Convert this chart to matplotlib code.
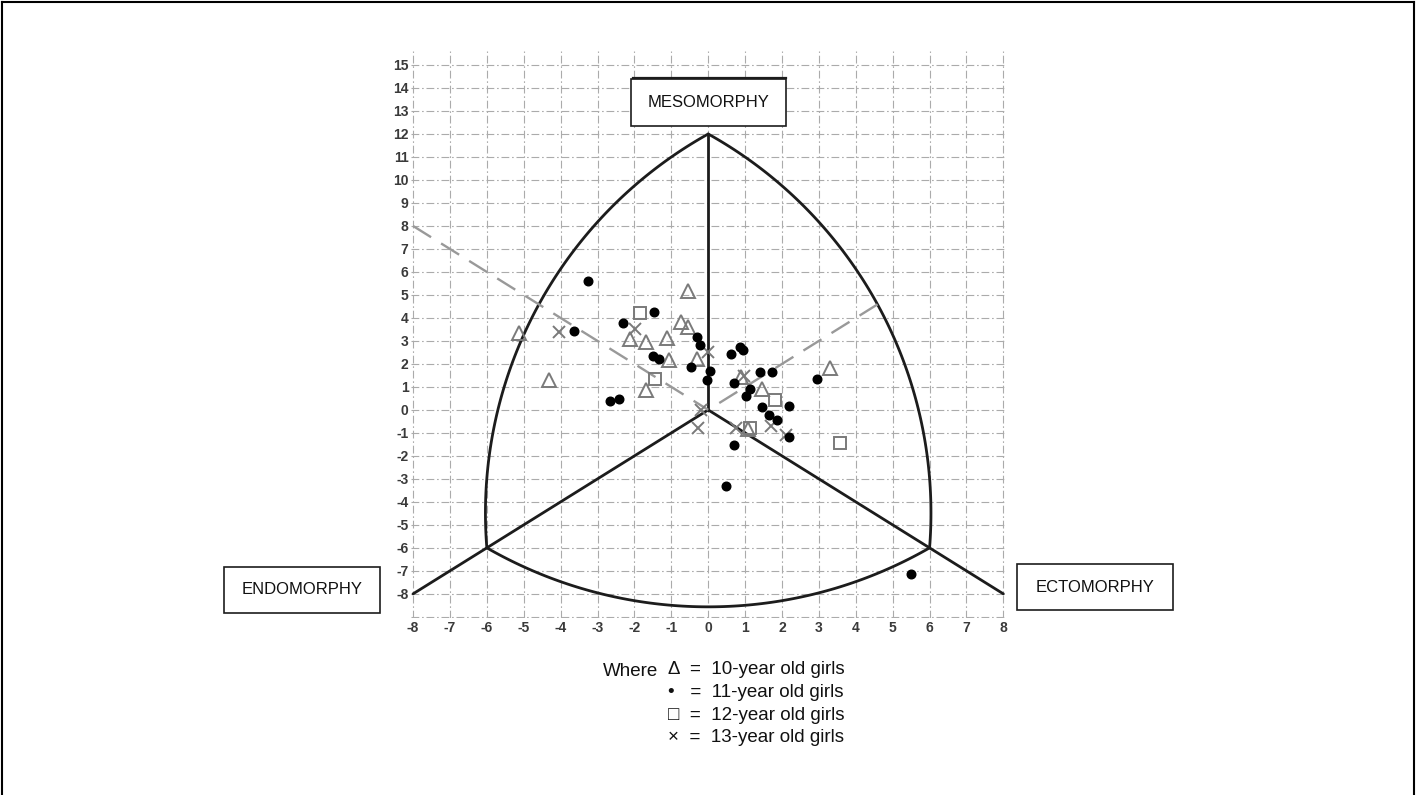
import numpy as np
import matplotlib.pyplot as plt
from matplotlib.patches import Rectangle
from matplotlib.lines import Line2D

plt.rcParams['font.family'] = ['Liberation Sans', 'DejaVu Sans']

# somatochart points
# 10-year old girls (triangles)
tri_x = [-0.56, -5.12, -0.74, -0.56, -2.13, -1.68, -1.12, -1.05, -0.30, -4.31, -1.68, 3.31, 1.46, 0.88, 1.08]
tri_y = [5.19, 3.33, 3.84, 3.62, 3.07, 2.94, 3.12, 2.17, 2.20, 1.30, 0.87, 1.81, 0.90, 1.45, -0.84]

# 11-year old girls (filled circles)
dot_x = [-3.25, -3.64, -2.31, -1.46, -1.50, -1.32, -0.31, -0.22, -0.47, 0.06, -0.02, -2.65, -2.43,
         0.61, 0.85, 0.93, 0.70, 1.40, 1.74, 2.94, 1.12, 1.03, 1.46, 1.64, 1.87, 2.20, 2.20, 0.70,
         0.48, 5.50]
dot_y = [5.62, 3.43, 3.77, 4.25, 2.35, 2.20, 3.19, 2.83, 1.86, 1.71, 1.30, 0.39, 0.48,
         2.43, 2.75, 2.61, 1.16, 1.64, 1.64, 1.33, 0.90, 0.61, 0.14, -0.22, -0.43, 0.19, -1.16, -1.52,
         -3.29, -7.14]

# 12-year old girls (squares)
sq_x = [-1.84, -1.44, 1.80, 1.12, 3.57]
sq_y = [4.23, 1.35, 0.41, -0.80, -1.42]

# 13-year old girls (crosses)
cr_x = [-4.04, -1.98, 0.00, 0.97, 0.76, 1.69, 2.11, -0.27, -0.20]
cr_y = [3.38, 3.50, 2.50, 1.48, -0.80, -0.72, -1.09, -0.78, 0.00]

# chart frame
top_pt = (0, 12)
left_pt = (-6, -6)
right_pt = (6, -6)
x_ticks = list(range(-8, 9))
y_ticks = list(range(-8, 16))

legend_symbols = ['\u0394', '\u2022 ', '\u25a1', '\u00d7']
legend_ages = [10, 11, 12, 13]

W, H = 1416, 795
PX, PY = 36.9, 23.0  # pixels per data unit


def arc(a, b, r, inside, n=100):
    # circular arc (round in pixel space) between a and b, bulging away from inside
    ax_, ay_ = a[0] * PX, a[1] * PY
    bx_, by_ = b[0] * PX, b[1] * PY
    mx, my = (ax_ + bx_) / 2, (ay_ + by_) / 2
    dx, dy = bx_ - ax_, by_ - ay_
    L = np.hypot(dx, dy)
    nx, ny = -dy / L, dx / L
    ix, iy = inside[0] * PX, inside[1] * PY
    if (ix - mx) * nx + (iy - my) * ny < 0:
        nx, ny = -nx, -ny
    h = np.sqrt(r ** 2 - (L / 2) ** 2)
    cx, cy = mx + nx * h, my + ny * h
    t0 = np.arctan2(ay_ - cy, ax_ - cx)
    t1 = np.arctan2(by_ - cy, bx_ - cx)
    dt = (t1 - t0 + np.pi) % (2 * np.pi) - np.pi
    t = t0 + dt * np.linspace(0, 1, n)
    return (cx + r * np.cos(t)) / PX, (cy + r * np.sin(t)) / PY


fig = plt.figure(figsize=(W / 100, H / 100), dpi=100)
ax = fig.add_axes([411.2 / W, 1 - 618 / H, 594 / W, 566.8 / H])
ax.set_xlim(-8.05, 8.05)
ax.set_ylim(-9.05, 15.6)

for s in ax.spines.values():
    s.set_visible(False)
ax.set_xticks(x_ticks, [str(v) for v in x_ticks])
ax.set_yticks(y_ticks, [str(v) for v in y_ticks])
ax.tick_params(length=0, pad=2, labelsize=10, labelcolor='#3a3a3a')
for lab in ax.get_xticklabels() + ax.get_yticklabels():
    lab.set_fontweight('bold')
grid_kw = dict(color='#ababab', lw=0.8, ls=(0, (7, 2.5, 1.5, 2.5)))
ax.grid(True, **grid_kw)
ax.axhline(-9, **grid_kw)

# outline
line_kw = dict(color='#1c1c1c', lw=2.0, solid_capstyle='round', solid_joinstyle='round', zorder=3)
ax.plot([0, top_pt[0]], [0, top_pt[1]], **line_kw)
ax.plot([-8, 0], [-8, 0], **line_kw)
ax.plot([0, 8], [0, -8], **line_kw)
origin = (0, 0)
for a, b, r in [(top_pt, left_pt, 434), (top_pt, right_pt, 434), (left_pt, right_pt, 445)]:
    xs, ys = arc(a, b, r, origin)
    ax.plot(xs, ys, **line_kw)

# dashed lines
dash_kw = dict(color='#999999', lw=1.7, ls=(0, (9, 5)), zorder=3)
ax.plot([-8, 0], [8, 0], **dash_kw)
ax.plot([0.3, 4.6], [0.3, 4.6], **dash_kw)

# points
ax.plot(tri_x, tri_y, ls='none', marker='^', ms=10, mfc='none', mec='#7a7a7a', mew=1.4, zorder=4)
ax.plot(sq_x, sq_y, ls='none', marker='s', ms=8, mfc='none', mec='#7a7a7a', mew=1.4, zorder=4)
ax.plot(cr_x, cr_y, ls='none', marker='x', ms=8.5, mec='#7a7a7a', mew=1.4, zorder=4)
ax.plot(dot_x, dot_y, ls='none', marker='o', ms=6.2, mfc='black', mec='black', zorder=5)


def label_box(x0, y0, x1, y1, text):
    fig.add_artist(Rectangle((x0 / W, 1 - y1 / H), (x1 - x0) / W, (y1 - y0) / H,
                             transform=fig.transFigure, facecolor='white',
                             edgecolor='#1c1c1c', lw=1.2, zorder=10))
    fig.text((x0 + x1) / 2 / W, 1 - (y0 + y1) / 2 / H, text, ha='center', va='center',
             fontsize=12, color='#111111', zorder=11)


label_box(631, 79, 786, 126, 'MESOMORPHY')
fig.add_artist(Line2D([633 / W, 786 / W], [1 - 77.5 / H, 1 - 77.5 / H], transform=fig.transFigure,
                      color='#1c1c1c', lw=1.6, zorder=11))
label_box(224, 567, 380, 613, 'ENDOMORPHY')
label_box(1017, 564, 1173, 610, 'ECTOMORPHY')

# legend text
fig.text(603 / W, 1 - 671 / H, 'Where', ha='left', va='center', fontsize=13.5, color='#111111')
for i, (sym, age) in enumerate(zip(legend_symbols, legend_ages)):
    fig.text(668 / W, 1 - (670 + 22.5 * i) / H, f'{sym}  =  {age}-year old girls',
             ha='left', va='center', fontsize=13.5, color='#111111')

# page border
for xs, ys in [([0.0015, 0.0015], [0, 0.998]), ([0.0015, 0.9985], [0.998, 0.998]),
               ([0.9985, 0.9985], [0, 0.998])]:
    fig.add_artist(Line2D(xs, ys, transform=fig.transFigure, color='black', lw=1.5))

fig.savefig('out.png', dpi=100)
